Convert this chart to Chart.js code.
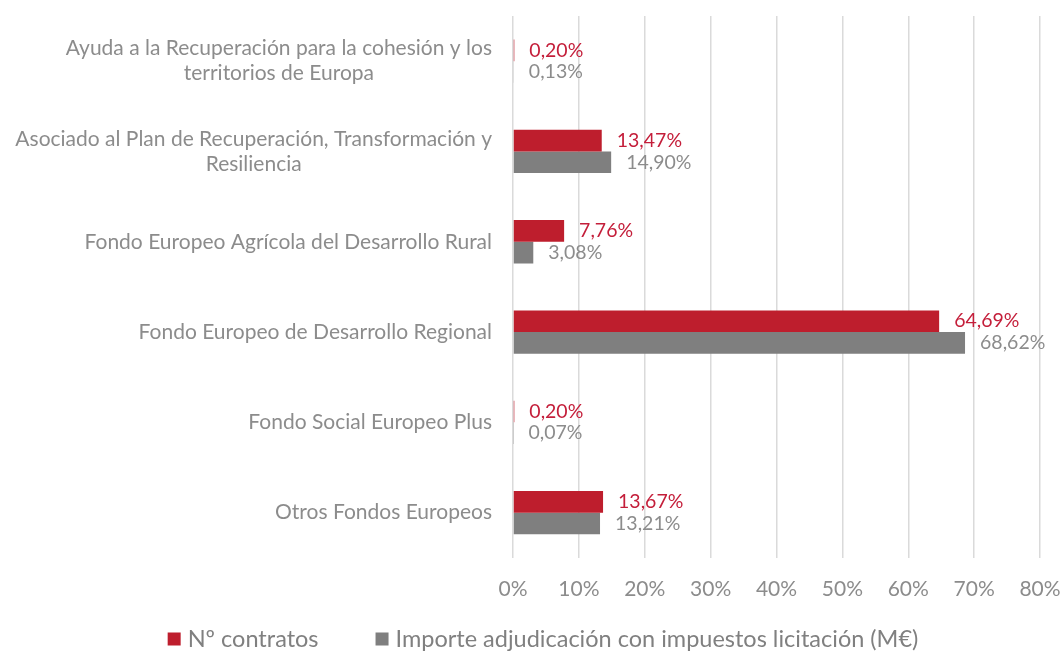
<!DOCTYPE html>
<html>
<head>
<meta charset="utf-8">
<script src="https://cdn.jsdelivr.net/npm/chart.js@4/dist/chart.umd.min.js"></script>
<style>
  html, body { margin: 0; padding: 0; background: #fff; }
  #wrap { width: 1062px; height: 653px; }
</style>
</head>
<body>
<div id="wrap"><canvas id="myChart"></canvas></div>
<script>
// data
const categories = [
    ['Ayuda a la Recuperación para la cohesión y los', 'territorios de Europa'],
    ['Asociado al Plan de Recuperación, Transformación y', 'Resiliencia'],
    ['Fondo Europeo Agrícola del Desarrollo Rural'],
    ['Fondo Europeo de Desarrollo Regional'],
    ['Fondo Social Europeo Plus'],
    ['Otros Fondos Europeos']
];
const contratos = [0.20, 13.47, 7.76, 64.69, 0.20, 13.67];
const importe = [0.13, 14.90, 3.08, 68.62, 0.07, 13.21];
const seriesNames = ['Nº contratos', 'Importe adjudicación con impuestos licitación (M€)'];

const RED = '#BE1E2D';
const GREY = '#7F7F7F';
const TEXT = '#8C8C8C';
const FONT = 'Lato, "Noto Sans", sans-serif';

Chart.defaults.font.family = FONT;
Chart.defaults.color = TEXT;

const fmt = v => v.toFixed(2).replace('.', ',') + '%';

// category labels, centred line by line and right-aligned as a block
const catLabels = {
    id: 'catLabels',
    afterDraw(chart) {
        const ctx = chart.ctx;
        const y = chart.scales.y;
        const right = chart.chartArea.left - 21;
        const lh = 25;
        ctx.save();
        ctx.font = '21px ' + FONT;
        ctx.fillStyle = TEXT;
        ctx.textAlign = 'center';
        ctx.textBaseline = 'middle';
        categories.forEach((lines, i) => {
            const cy = y.getPixelForTick(i);
            const w = Math.max(...lines.map(l => ctx.measureText(l).width));
            const cx = right - w / 2;
            const top = cy - (lines.length - 1) * lh / 2;
            lines.forEach((l, k) => ctx.fillText(l, cx, top + k * lh));
        });
        ctx.restore();
    }
};

// value labels at the end of the bars
const valueLabels = {
    id: 'valueLabels',
    afterDatasetsDraw(chart) {
        const ctx = chart.ctx;
        ctx.save();
        ctx.font = '19.5px ' + FONT;
        ctx.textAlign = 'left';
        ctx.textBaseline = 'middle';
        chart.data.datasets.forEach((ds, di) => {
            const meta = chart.getDatasetMeta(di);
            ctx.fillStyle = di === 0 ? '#C41E3A' : TEXT;
            meta.data.forEach((bar, i) => {
                ctx.fillText(fmt(ds.data[i]), bar.x + 15, bar.y);
            });
        });
        ctx.restore();
    }
};

// legend drawn at the bottom, wide spacing between items
const bottomLegend = {
    id: 'bottomLegend',
    afterDraw(chart) {
        const ctx = chart.ctx;
        const box = 13, gap = 7, space = 57;
        ctx.save();
        ctx.font = '23.5px ' + FONT;
        ctx.textBaseline = 'middle';
        ctx.textAlign = 'left';
        const items = chart.data.datasets.map(ds => ({
            text: ds.label, color: ds.backgroundColor, w: ctx.measureText(ds.label).width
        }));
        const total = items.reduce((s, it) => s + box + gap + it.w, 0) + space * (items.length - 1);
        let x = chart.width / 2 + 12 - total / 2;
        const cy = chart.height - 14;
        items.forEach(it => {
            ctx.fillStyle = it.color;
            ctx.fillRect(x, cy - box / 2, box, box);
            x += box + gap;
            ctx.fillStyle = '#808080';
            ctx.fillText(it.text, x, cy);
            x += it.w + space;
        });
        ctx.restore();
    }
};

const config = {
    type: 'bar',
    data: {
        labels: categories.map(c => c.join(' ')),
        datasets: [{
            label: seriesNames[0],
            data: contratos,
            backgroundColor: RED,
            categoryPercentage: 0.48,
            barPercentage: 1.0
        }, {
            label: seriesNames[1],
            data: importe,
            backgroundColor: GREY,
            categoryPercentage: 0.48,
            barPercentage: 1.0
        }]
    },
    options: {
        indexAxis: 'y',
        responsive: true,
        maintainAspectRatio: false,
        animation: false,
        layout: { padding: { top: 16, right: 0, left: 0, bottom: 32 } },
        scales: {
            x: {
                min: 0,
                max: 80,
                border: { display: false },
                grid: { color: '#DADADA', lineWidth: 1.5, drawTicks: false },
                ticks: {
                    stepSize: 10,
                    padding: 19,
                    color: TEXT,
                    font: { size: 21 },
                    callback: v => v + '%'
                },
                afterFit(s) { s.paddingRight = 22; }
            },
            y: {
                border: { display: false },
                grid: { display: false, drawTicks: false },
                ticks: { display: false },
                afterFit(s) { s.width = 513; }
            }
        },
        plugins: {
            legend: { display: false },
            tooltip: { enabled: false }
        }
    },
    plugins: [catLabels, valueLabels, bottomLegend]
};

const myChart = new Chart(document.getElementById('myChart'), config);
</script>
</body>
</html>
